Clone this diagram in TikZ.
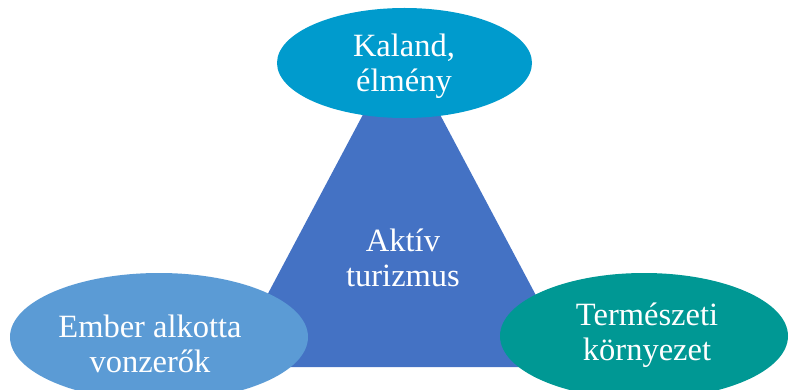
\documentclass[tikz,border=0pt]{standalone}
\usepackage{fontspec}
\setmainfont{Liberation Serif}
\usetikzlibrary{shapes.geometric}
\definecolor{topc}{RGB}{0,155,205}
\definecolor{tric}{RGB}{68,114,196}
\definecolor{leftc}{RGB}{91,155,213}
\definecolor{rightc}{RGB}{0,152,148}
\tikzset{
  blob/.style={ellipse, inner sep=0pt, draw=none},
  lbl/.style={text=white, align=center, font=\fontsize{32.5}{35}\selectfont, inner sep=0pt}
}
\begin{document}
\begin{tikzpicture}[x=1pt,y=-1pt]
\useasboundingbox (0,0) rectangle (789,390);
\begin{scope}
\clip (0,0) rectangle (789,390);
\coordinate (apex) at (401.5,42);
\coordinate (bl) at (229,367);
\coordinate (br) at (574,367);
\fill[tric] (apex) -- (bl) -- (br) -- cycle;
\node[blob, fill=topc, minimum width=255pt, minimum height=110pt] (top) at (404.5,63) {};
\node[blob, fill=leftc, minimum width=298pt, minimum height=128pt] (left) at (159,337) {};
\node[blob, fill=rightc, minimum width=288pt, minimum height=126pt] (right) at (644,336) {};
\end{scope}
\node[lbl] (ttop) at (404,66) {Kaland,\\élmény};
\node[lbl] (tmid) at (403,258) {Aktív\\turizmus};
\node[lbl] (tleft) at (150,344) {Ember alkotta\\vonzerők};
\node[lbl] (tright) at (647,335) {Természeti\\környezet};
\end{tikzpicture}
\end{document}
